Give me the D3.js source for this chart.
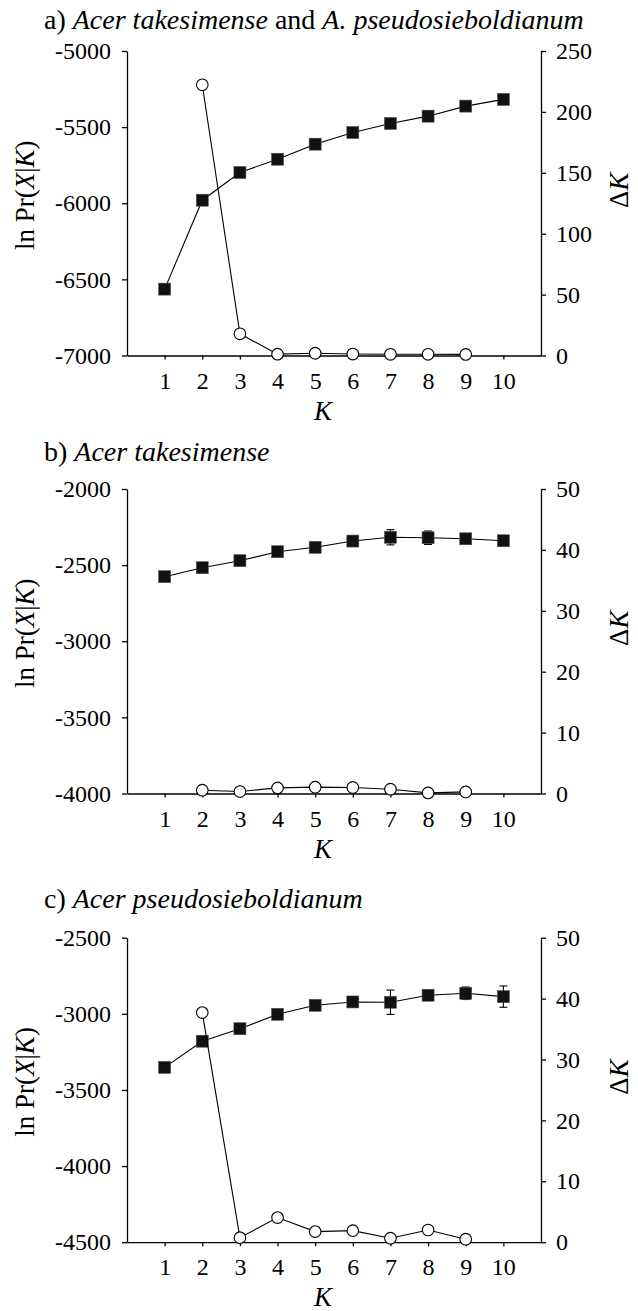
<!DOCTYPE html>
<html>
<head>
<meta charset="utf-8">
<script src="https://cdn.jsdelivr.net/npm/d3@7/dist/d3.min.js"></script>
<style>
  body { margin: 0; background: #fff; }
  svg { display: block; font-family: "Liberation Serif", "Times New Roman", serif; }
  .axis path, .axis line { stroke: #000; stroke-width: 1.3px; }
  .axis text { font-size: 24px; fill: #000; font-family: "Liberation Serif", serif; }
</style>
</head>
<body>
<div class="main"></div>
<script>
// K values on the x axis
const kValues = [1, 2, 3, 4, 5, 6, 7, 8, 9, 10];
const deltaKs = [2, 3, 4, 5, 6, 7, 8, 9];

// panel a: both species
const lnPrA = [-6564, -5980, -5798, -5711, -5612, -5535, -5476, -5428, -5362, -5318];
const lnPrErrA = [0, 0, 0, 0, 0, 0, 0, 0, 0, 0];
const deltaKA = [222.3, 17.8, 1.1, 1.9, 1.2, 1.0, 1.0, 0.9];
const leftTicksA = [-7000, -6500, -6000, -5500, -5000];
const rightTicksA = [0, 50, 100, 150, 200, 250];

// panel b: Acer takesimense
const lnPrB = [-2576, -2517, -2471, -2412, -2383, -2342, -2317, -2320, -2327, -2340];
const lnPrErrB = [0, 0, 0, 0, 0, 10, 50, 44, 12, 10];
const deltaKB = [0.54, 0.33, 0.92, 1.04, 0.99, 0.71, 0.1, 0.26];
const leftTicksB = [-4000, -3500, -3000, -2500, -2000];
const rightTicksB = [0, 10, 20, 30, 40, 50];

// panel c: Acer pseudosieboldianum
const lnPrC = [-3352, -3180, -3098, -3003, -2944, -2922, -2924, -2878, -2865, -2887];
const lnPrErrC = [0, 0, 0, 0, 0, 12, 80, 20, 41, 70];
const deltaKC = [37.7, 0.75, 4.04, 1.74, 1.9, 0.66, 2.0, 0.49];
const leftTicksC = [-4500, -4000, -3500, -3000, -2500];
const rightTicksC = [0, 10, 20, 30, 40, 50];

const svgWidth = 638,
      svgHeight = 1311,
      plotLeft = 127,
      plotRight = 541,
      plotHeight = 304.5;

const panels = [
  {top: 51, titleY: 29, title: [["a) ", false], ["Acer takesimense", true], [" and ", false], ["A. pseudosieboldianum", true]],
   lnPr: lnPrA, err: lnPrErrA, dk: deltaKA, lt: leftTicksA, rt: rightTicksA},
  {top: 489, titleY: 461, title: [["b) ", false], ["Acer takesimense", true]],
   lnPr: lnPrB, err: lnPrErrB, dk: deltaKB, lt: leftTicksB, rt: rightTicksB},
  {top: 937.7, titleY: 908, title: [["c) ", false], ["Acer pseudosieboldianum", true]],
   lnPr: lnPrC, err: lnPrErrC, dk: deltaKC, lt: leftTicksC, rt: rightTicksC}
];

let svg = d3.select("body>.main").append("svg")
    .attr("width", svgWidth)
    .attr("height", svgHeight);

svg.append("rect").attr("width", svgWidth).attr("height", svgHeight).attr("fill", "#fff");

let x = d3.scaleLinear().domain([0, 11]).range([plotLeft, plotRight]);

function drawPanel(p) {
  const bottom = p.top + plotHeight;
  let y = d3.scaleLinear().domain(d3.extent(p.lt)).range([bottom, p.top]),
      yr = d3.scaleLinear().domain(d3.extent(p.rt)).range([bottom, p.top]);

  let g = svg.append("g");

  // title
  let title = g.append("text")
      .attr("x", 44)
      .attr("y", p.titleY)
      .style("font-size", "28px");
  p.title.forEach(function(part) {
    title.append("tspan")
      .style("font-style", part[1] ? "italic" : "normal")
      .text(part[0]);
  });

  // axes
  g.append("g")
      .attr("class", "axis")
      .attr("transform", "translate(0," + bottom + ")")
      .call(d3.axisBottom(x).tickValues(kValues).tickSize(4).tickSizeOuter(0).tickPadding(12));

  g.append("g")
      .attr("class", "axis")
      .attr("transform", "translate(" + plotLeft + ",0)")
      .call(d3.axisLeft(y).tickValues(p.lt).tickSize(5).tickSizeOuter(0).tickPadding(11).tickFormat(d3.format("d")));

  g.append("g")
      .attr("class", "axis")
      .attr("transform", "translate(" + plotRight + ",0)")
      .call(d3.axisRight(yr).tickValues(p.rt).tickSize(5).tickSizeOuter(0).tickPadding(10));

  g.selectAll(".axis text").text(function() { return this.textContent.replace("\u2212", "-"); });

  // axis labels
  const cy = p.top + plotHeight / 2;
  let yl = g.append("text")
      .attr("transform", "translate(34," + (cy - 8) + ") rotate(-90)")
      .attr("text-anchor", "middle")
      .style("font-size", "27px");
  yl.append("tspan").text("ln Pr(");
  yl.append("tspan").style("font-style", "italic").text("X");
  yl.append("tspan").text("|");
  yl.append("tspan").style("font-style", "italic").text("K");
  yl.append("tspan").text(")");

  let yrl = g.append("text")
      .attr("transform", "translate(628," + (cy - 13) + ") rotate(-90)")
      .attr("text-anchor", "middle")
      .style("font-size", "27px");
  yrl.append("tspan").text("\u0394");
  yrl.append("tspan").style("font-style", "italic").text("K");

  g.append("text")
      .attr("x", (plotLeft + plotRight) / 2 - 11)
      .attr("y", bottom + 64)
      .attr("text-anchor", "middle")
      .style("font-size", "27px")
      .style("font-style", "italic")
      .text("K");

  // ln Pr series
  let lineL = d3.line().x((d, i) => x(kValues[i])).y(d => y(d));
  g.append("path")
      .datum(p.lnPr)
      .attr("d", lineL)
      .attr("fill", "none")
      .attr("stroke", "#000")
      .attr("stroke-width", 1.1);

  let bars = g.append("g").selectAll("g")
      .data(p.lnPr.map((d, i) => ({k: kValues[i], v: d, e: p.err[i]})).filter(d => d.e > 0))
    .enter().append("g")
      .attr("stroke", "#000")
      .attr("stroke-width", 1.1);
  bars.append("line")
      .attr("x1", d => x(d.k)).attr("x2", d => x(d.k))
      .attr("y1", d => y(d.v - d.e)).attr("y2", d => y(d.v + d.e));
  bars.append("line")
      .attr("x1", d => x(d.k) - 4).attr("x2", d => x(d.k) + 4)
      .attr("y1", d => y(d.v - d.e)).attr("y2", d => y(d.v - d.e));
  bars.append("line")
      .attr("x1", d => x(d.k) - 4).attr("x2", d => x(d.k) + 4)
      .attr("y1", d => y(d.v + d.e)).attr("y2", d => y(d.v + d.e));

  const sq = 12;
  g.append("g").selectAll("rect")
      .data(p.lnPr)
    .enter().append("rect")
      .attr("x", (d, i) => x(kValues[i]) - sq / 2)
      .attr("y", d => y(d) - sq / 2)
      .attr("width", sq)
      .attr("height", sq)
      .attr("fill", "#111")
      .attr("stroke", "#555")
      .attr("stroke-width", 0.6);

  // delta K series
  let lineR = d3.line().x((d, i) => x(deltaKs[i])).y(d => yr(d));
  g.append("path")
      .datum(p.dk)
      .attr("d", lineR)
      .attr("fill", "none")
      .attr("stroke", "#000")
      .attr("stroke-width", 1.1);

  g.append("g").selectAll("circle")
      .data(p.dk)
    .enter().append("circle")
      .attr("cx", (d, i) => x(deltaKs[i]))
      .attr("cy", d => yr(d))
      .attr("r", 5.8)
      .attr("fill", "#fff")
      .attr("stroke", "#000")
      .attr("stroke-width", 1.1);
}

panels.forEach(drawPanel);
</script>
</body>
</html>
